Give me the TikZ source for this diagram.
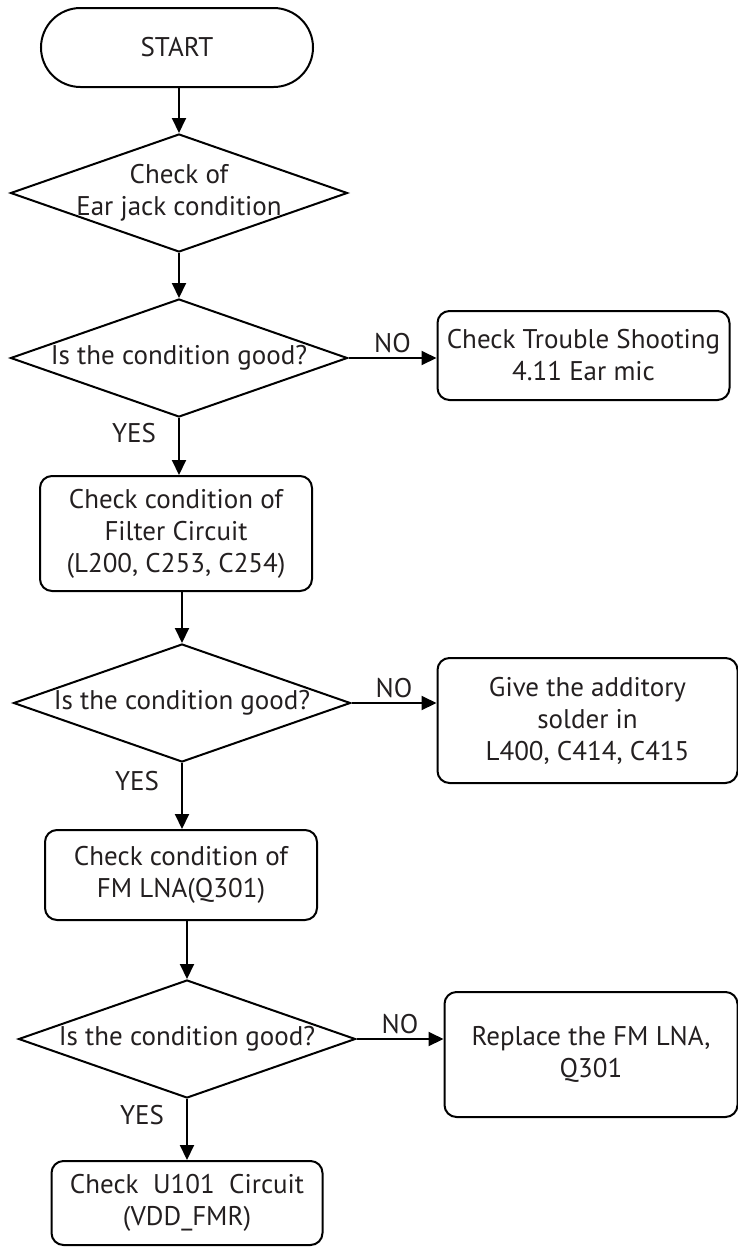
\documentclass[tikz,border=0pt]{standalone}
\usepackage{fontspec}
\setmainfont{PT Sans}
\usetikzlibrary{positioning,arrows.meta,shapes.geometric}
\definecolor{inkgray}{RGB}{35,31,32}

\begin{document}
\begin{tikzpicture}[
    x=0.5pt, y=-0.5pt,
    font=\fontsize{13.5}{16}\selectfont,
    every node/.style={text=inkgray},
    terminal/.style={draw, line width=1pt, rounded corners=19.75pt, minimum width=136pt, minimum height=39.5pt},
    decision/.style={draw, diamond, line width=1pt, aspect=2.86, inner sep=-5pt, minimum width=168.5pt, minimum height=59pt, align=center},
    box/.style={draw, line width=1pt, rounded corners=6pt, align=center, minimum width=136pt},
    arrow/.style={-{Triangle[length=7.5pt,width=7pt]}, line width=1pt},
    lbl/.style={inner sep=0pt}
]
\useasboundingbox (0,0) rectangle (738,1248);
\node[terminal] (start) at (177,47.5) {START};
\node[decision, below=22.5pt of start, xshift=1pt] (jack) {Check of\\Ear jack condition};
\node[decision, below=22.5pt of jack] (cond1) {Is the condition good?};
\node[box, right=44pt of cond1, yshift=1.25pt, minimum width=146pt, minimum height=44.5pt] (fix1) {Check Trouble Shooting\\4.11 Ear mic};
\node[box, below=28.5pt of cond1, xshift=-1.5pt, minimum height=57.5pt] (chk1) {Check condition of\\Filter Circuit\\(L200, C253, C254)};
\node[decision, below=25.5pt of chk1, xshift=3pt] (cond2) {Is the condition good?};
\node[box, right=42.5pt of cond2, yshift=-8.75pt, minimum width=150pt, minimum height=62.5pt] (fix2) {Give the additory\\solder in\\L400, C414, C415};
\node[box, below=33pt of cond2, xshift=-0.5pt, minimum height=45pt] (chk2) {Check condition of\\FM LNA(Q301)};
\node[decision, below=29pt of chk2, xshift=3pt] (cond3) {Is the condition good?};
\node[box, right=43.5pt of cond3, yshift=-7.75pt, minimum width=146.5pt, minimum height=62.5pt] (fix3) {Replace the FM LNA,\\Q301};
\node[box, below=30.5pt of cond3, minimum width=135.5pt, minimum height=42pt] (chk3) {Check~ U101~ Circuit\\(VDD\_FMR)};

\draw[arrow] (start.south -| jack.north) -- (jack.north);
\draw[arrow] (jack.south) -- (cond1.north);
\draw[arrow] (cond1.east) -- (cond1.east -| fix1.west) node[midway, above=2pt, lbl] {NO};
\draw[arrow] (cond1.south) -- (cond1.south |- chk1.north) node[pos=0.27, left=11pt, lbl] {YES};
\draw[arrow] (chk1.south -| cond2.north) -- (cond2.north);
\draw[arrow] (cond2.east) -- (cond2.east -| fix2.west) node[midway, above=2pt, lbl] {NO};
\draw[arrow] (cond2.south) -- (cond2.south |- chk2.north) node[pos=0.27, left=11pt, lbl] {YES};
\draw[arrow] (chk2.south -| cond3.north) -- (cond3.north);
\draw[arrow] (cond3.east) -- (cond3.east -| fix3.west) node[midway, above=2pt, lbl] {NO};
\draw[arrow] (cond3.south) -- (cond3.south |- chk3.north) node[pos=0.27, left=11pt, lbl] {YES};
\end{tikzpicture}
\end{document}
